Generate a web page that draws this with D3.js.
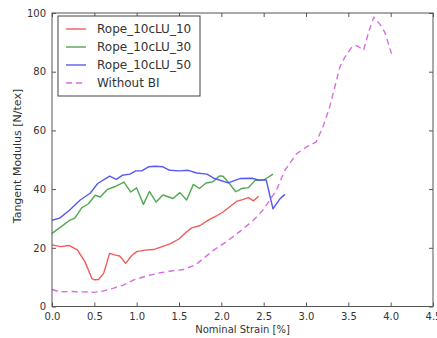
<!DOCTYPE html>
<html lang="en">
<head>
  <meta charset="UTF-8">
  <title>Tangent Modulus vs Nominal Strain</title>
  <script src="https://d3js.org/d3.v7.min.js"></script>
  <style>
    body { margin: 0; background: #fff; }
    text { font-family: "DejaVu Sans", sans-serif; fill: #333; }
    .line { fill: none; stroke-width: 1.4; stroke-linejoin: round; }
  </style>
</head>
<body>
  <svg width="437" height="338"></svg>

  <script>
    // values
    const redX = [0, 0.1, 0.2, 0.3, 0.39, 0.47, 0.5, 0.55, 0.61, 0.68, 0.75, 0.8, 0.87, 0.94, 1.0, 1.1, 1.2, 1.3, 1.4, 1.5, 1.58, 1.65, 1.75, 1.85, 1.95, 2.02, 2.1, 2.18, 2.26, 2.32, 2.38, 2.44];
    const redY = [21, 20.4, 20.8, 19.3, 15.2, 9.6, 9.1, 9.2, 11.3, 18.1, 17.5, 17.2, 14.7, 17.3, 18.7, 19.2, 19.4, 20.4, 21.4, 23, 25.2, 26.8, 27.6, 29.5, 31, 32.2, 34, 35.8, 36.5, 37.1, 36, 37.6];

    const greenX = [0, 0.11, 0.21, 0.27, 0.35, 0.43, 0.51, 0.57, 0.65, 0.74, 0.85, 0.93, 1.0, 1.08, 1.15, 1.23, 1.31, 1.43, 1.51, 1.59, 1.67, 1.74, 1.82, 1.9, 1.98, 2.02, 2.09, 2.17, 2.24, 2.32, 2.4, 2.48, 2.53, 2.61];
    const greenY = [24.9, 27.2, 29.4, 30.1, 33.6, 35, 37.9, 37.3, 39.8, 40.8, 42.4, 39, 40.4, 34.8, 39.2, 35.6, 38, 36.8, 38.8, 36.3, 41.6, 40.2, 42.1, 42.5, 44.5, 44.4, 42.1, 39.1, 40.2, 40.5, 43, 43, 43.6, 45.1];

    const blueX = [0, 0.09, 0.2, 0.33, 0.45, 0.54, 0.68, 0.76, 0.83, 0.92, 0.99, 1.06, 1.14, 1.22, 1.31, 1.39, 1.5, 1.61, 1.71, 1.83, 1.92, 2.08, 2.22, 2.36, 2.44, 2.53, 2.61, 2.69, 2.75];
    const blueY = [29.4, 30.1, 32.6, 36.2, 38.6, 41.9, 44.4, 43.3, 44.7, 45.1, 46.2, 46.2, 47.6, 47.8, 47.6, 46.4, 46.2, 46.4, 45.5, 45.1, 43.6, 42.1, 43.6, 43.7, 43.1, 43.1, 33.3, 36.6, 38.2];

    const noBiX = [0, 0.09, 0.21, 0.37, 0.49, 0.61, 0.72, 0.84, 0.96, 1.12, 1.28, 1.43, 1.55, 1.69, 1.79, 1.91, 2.06, 2.22, 2.38, 2.49, 2.57, 2.65, 2.75, 2.89, 3.01, 3.12, 3.2, 3.28, 3.34, 3.4, 3.46, 3.54, 3.6, 3.68, 3.74, 3.8, 3.87, 3.93, 4.01];
    const noBiY = [5.8, 5.0, 5.1, 5.0, 4.8, 5.3, 6.2, 7.3, 9.0, 10.4, 11.5, 12.2, 12.6, 14.1, 16.4, 19.2, 22.1, 25.6, 29.4, 32.8, 36.2, 39.6, 46.4, 52.1, 54.4, 56.1, 61.2, 68, 74.8, 81.6, 85, 88.4, 88.9, 87.3, 93.5, 98.6, 96.3, 93.5, 86.1];

    const xTicks = [0, 0.5, 1, 1.5, 2, 2.5, 3, 3.5, 4, 4.5];
    const yTicks = [0, 20, 40, 60, 80, 100];

    const series = [
      { name: 'Rope_10cLU_10', xs: redX, ys: redY, color: '#f35b5b', dash: null },
      { name: 'Rope_10cLU_30', xs: greenX, ys: greenY, color: '#52a852', dash: null },
      { name: 'Rope_10cLU_50', xs: blueX, ys: blueY, color: '#5858f5', dash: null },
      { name: 'Without BI', xs: noBiX, ys: noBiY, color: '#d66fe0', dash: '6,4' }
    ];

    const svg = d3.select('svg');
    const margin = { top: 13, right: 4, bottom: 31.5, left: 52 };
    const width = 437 - margin.left - margin.right;
    const height = 338 - margin.top - margin.bottom;

    const g = svg.append('g').attr('transform', `translate(${margin.left},${margin.top})`);

    const x = d3.scaleLinear().domain([0, 4.5]).range([0, width]);
    const y = d3.scaleLinear().domain([0, 100]).range([height, 0]);

    const line = d3.line()
      .x(d => x(d[0]))
      .y(d => y(d[1]));

    series.forEach(s => {
      g.append('path')
        .attr('class', 'line')
        .attr('d', line(s.xs.map((v, i) => [v, s.ys[i]])))
        .attr('stroke', s.color)
        .attr('stroke-width', s.dash ? 1.6 : 1.4)
        .attr('stroke-dasharray', s.dash);
    });

    // axes, ticks pointing inwards on all four sides
    const xAxis = g.append('g').attr('transform', `translate(0,${height})`)
      .call(d3.axisBottom(x).tickValues(xTicks).tickFormat(d3.format('.1f')).tickSizeInner(-4).tickSizeOuter(0).tickPadding(6));
    const yAxis = g.append('g')
      .call(d3.axisLeft(y).tickValues(yTicks).tickSizeInner(-4).tickSizeOuter(0).tickPadding(6));
    const xTop = g.append('g')
      .call(d3.axisTop(x).tickValues(xTicks).tickFormat('').tickSizeInner(-4).tickSizeOuter(0));
    const yRight = g.append('g').attr('transform', `translate(${width},0)`)
      .call(d3.axisRight(y).tickValues(yTicks).tickFormat('').tickSizeInner(-4).tickSizeOuter(0));

    [xAxis, yAxis, xTop, yRight].forEach(a => {
      a.select('.domain').remove();
      a.selectAll('line').attr('stroke', '#555');
      a.selectAll('text').style('font-size', '10px').attr('fill', '#333');
    });

    g.append('rect')
      .attr('width', width).attr('height', height)
      .attr('fill', 'none').attr('stroke', '#555').attr('stroke-width', 1);

    // axis titles
    svg.append('text')
      .attr('x', margin.left + width / 2).attr('y', 333)
      .attr('text-anchor', 'middle')
      .style('font-size', '10px')
      .text('Nominal Strain [%]');

    svg.append('text')
      .attr('transform', 'translate(21,156) rotate(-90)')
      .attr('text-anchor', 'middle')
      .style('font-size', '11px')
      .text('Tangent Modulus [N/tex]');

    // legend
    const legend = g.append('g').attr('transform', 'translate(6,3)');
    legend.append('rect')
      .attr('width', 142).attr('height', 80)
      .attr('fill', '#fff').attr('stroke', '#444').attr('stroke-width', 1);

    series.forEach((s, i) => {
      const row = legend.append('g').attr('transform', `translate(0,${13 + i * 18})`);
      row.append('line')
        .attr('x1', 8).attr('x2', 28)
        .attr('stroke', s.color)
        .attr('stroke-width', s.dash ? 1.6 : 1.4)
        .attr('stroke-dasharray', s.dash);
      row.append('text')
        .attr('x', 39).attr('dy', '0.35em')
        .style('font-size', '12px')
        .text(s.name);
    });
  </script>
</body>
</html>
